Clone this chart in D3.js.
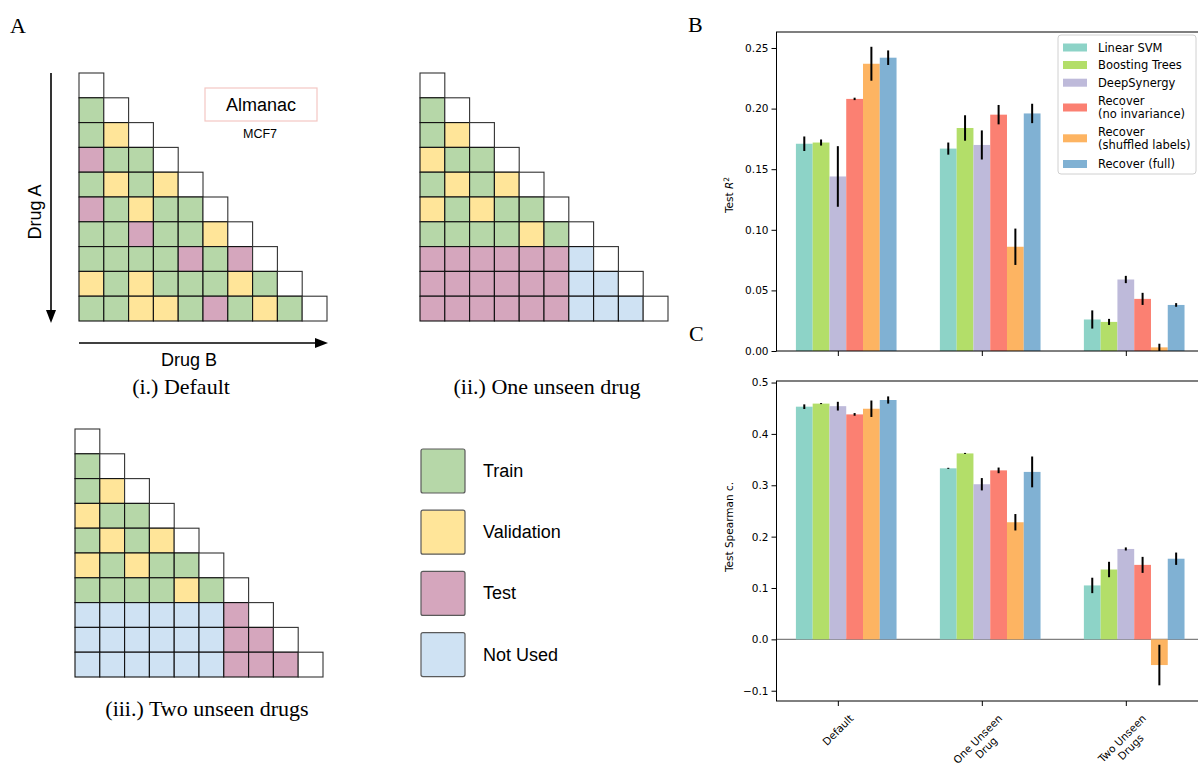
<!DOCTYPE html>
<html><head><meta charset="utf-8">
<script src="https://cdn.jsdelivr.net/npm/d3@7"></script>
<style>
body{margin:0;background:#fff;}
svg{display:block;}
</style></head>
<body>
<svg id="fig" width="1198" height="765"></svg>
<script>
// ---------- DATA ----------
// Panel A: split schematics (row strings; G=train, Y=validation, P=test, B=not used, W=empty)
const gridDefault = ["W","GW","GYW","PGGW","GYGYW","PGYGGW","GGPGGYW","GGGGPGPW","YGYGGGYGW","GGYYGPGYGW"];
const gridOneUnseen = ["W","GW","GYW","YGGW","GYGYW","YGYGGW","GGGGYGW","PPPPPPBW","PPPPPPBBW","PPPPPPBBBW"];
const gridTwoUnseen = ["W","GW","GYW","YGGW","GYGYW","YGYGGW","GGGGYGW","BBBBBBPW","BBBBBBPPW","BBBBBBPPPW"];
const splitKeys = ["G","Y","P","B"];
const splitLabels = ["Train","Validation","Test","Not Used"];
const captions = ["(i.) Default","(ii.) One unseen drug","(iii.) Two unseen drugs"];

// Panels B & C
const categories = ["Default","One Unseen\nDrug","Two Unseen\nDrugs"];
const methods = ["Linear SVM","Boosting Trees","DeepSynergy","Recover\n(no invariance)","Recover\n(shuffled labels)","Recover (full)"];
// rows = methods, columns = categories
const r2Mean = [
  [0.171,0.167,0.026],
  [0.172,0.184,0.024],
  [0.144,0.170,0.059],
  [0.208,0.195,0.043],
  [0.237,0.086,0.003],
  [0.242,0.196,0.038]
];
const r2Err = [
  [0.006,0.005,0.0075],
  [0.0025,0.0105,0.0025],
  [0.025,0.012,0.003],
  [0.001,0.008,0.005],
  [0.014,0.015,0.003],
  [0.006,0.008,0.0015]
];
const spMean = [
  [0.453,0.333,0.105],
  [0.459,0.362,0.136],
  [0.454,0.302,0.176],
  [0.438,0.329,0.145],
  [0.449,0.228,-0.050],
  [0.466,0.326,0.157]
];
const spErr = [
  [0.0045,0.001,0.015],
  [0.001,0.001,0.015],
  [0.0085,0.012,0.003],
  [0.0026,0.0055,0.0156],
  [0.016,0.016,0.0395],
  [0.007,0.030,0.012]
];
const r2Ticks = [0,0.05,0.10,0.15,0.20,0.25];
const spTicks = [-0.1,0,0.1,0.2,0.3,0.4,0.5];

// ---------- STYLE ----------
const splitColor = {G:"#b6d7a8",Y:"#ffe599",P:"#d5a6bd",B:"#cfe2f3",W:"#ffffff"};
const methodColors = ["#8dd3c7","#b3de69","#bebada","#fb8072","#fdb462","#80b1d3"];
const SANS = "'Liberation Sans', Arial, sans-serif";
const SERIF = "'Liberation Serif', 'DejaVu Serif', serif";
const MPL = "'DejaVu Sans', sans-serif";

const svg = d3.select("#fig");

// ---------- PANEL A ----------
const cell = 24.8;
function drawGrid(rows, x0, y0){
  const g = svg.append("g");
  rows.forEach((row, r) => {
    row.split("").forEach((k, c) => {
      g.append("rect")
        .attr("x", x0 + c*cell).attr("y", y0 + r*cell)
        .attr("width", cell).attr("height", cell)
        .attr("fill", splitColor[k])
        .attr("stroke", k === "W" ? "#333" : "#111")
        .attr("stroke-width", 1.1);
    });
  });
}
drawGrid(gridDefault, 79, 73);
drawGrid(gridOneUnseen, 420, 73);
drawGrid(gridTwoUnseen, 75, 429);

// panel letters
svg.append("text").attr("x",10).attr("y",33).attr("font-family",SERIF).attr("font-size",22).text("A");
svg.append("text").attr("x",688).attr("y",32).attr("font-family",SERIF).attr("font-size",22).text("B");
svg.append("text").attr("x",689).attr("y",341).attr("font-family",SERIF).attr("font-size",22).text("C");

// Almanac box
svg.append("rect").attr("x",205).attr("y",88).attr("width",112).attr("height",33)
  .attr("fill","#fff").attr("stroke","#f4c7c3").attr("stroke-width",1.2);
svg.append("text").attr("x",261).attr("y",111).attr("text-anchor","middle")
  .attr("font-family",SANS).attr("font-size",18).text("Almanac");
svg.append("text").attr("x",260).attr("y",138).attr("text-anchor","middle")
  .attr("font-family",SANS).attr("font-size",12.5).text("MCF7");

// arrows
svg.append("line").attr("x1",51).attr("y1",73).attr("x2",51).attr("y2",312).attr("stroke","#000").attr("stroke-width",1.6);
svg.append("path").attr("d","M46,310 L56,310 L51,323 Z").attr("fill","#000");
svg.append("line").attr("x1",79).attr("y1",343).attr("x2",317).attr("y2",343).attr("stroke","#000").attr("stroke-width",1.6);
svg.append("path").attr("d","M315,338 L315,348 L328,343 Z").attr("fill","#000");
svg.append("text").attr("transform","translate(41,212) rotate(-90)").attr("text-anchor","middle")
  .attr("font-family",SANS).attr("font-size",18).text("Drug A");
svg.append("text").attr("x",189).attr("y",366).attr("text-anchor","middle")
  .attr("font-family",SANS).attr("font-size",18).text("Drug B");

// captions
const capPos = [[181,394],[547,394],[207,716]];
captions.forEach((c,i)=>{
  svg.append("text").attr("x",capPos[i][0]).attr("y",capPos[i][1]).attr("text-anchor","middle")
    .attr("font-family",SERIF).attr("font-size",22).text(c);
});

// split legend
splitKeys.forEach((k,i)=>{
  const y = 449 + i*61.2;
  svg.append("rect").attr("x",421).attr("y",y).attr("width",44).attr("height",44).attr("rx",2)
    .attr("fill",splitColor[k]).attr("stroke","#5a5a5a").attr("stroke-width",1.2);
  svg.append("text").attr("x",483).attr("y",y+28).attr("font-family",SANS).attr("font-size",18)
    .text(splitLabels[i]);
});

// ---------- PANELS B & C ----------
const xLeft = 776.5, xRight = 1204;
const xScale = d3.scaleLinear().domain([-0.426, 2.543]).range([xLeft, xRight]);
const barW = 0.1165;

function barPanel(opts){
  const {y, top, bottom, means, errs, ticks, fmt, showLabels, zeroLine} = opts;
  const g = svg.append("g");
  if(zeroLine){
    g.append("line").attr("x1",xLeft).attr("x2",xRight).attr("y1",y(0)).attr("y2",y(0))
      .attr("stroke","#808080").attr("stroke-width",1.2);
  }
  methods.forEach((m, mi)=>{
    categories.forEach((c, ci)=>{
      const v = means[mi][ci];
      const xc = ci + (mi-2)*barW;
      g.append("rect")
        .attr("x", xScale(xc - barW/2)).attr("width", xScale(barW) - xScale(0))
        .attr("y", y(Math.max(0,v))).attr("height", Math.abs(y(v)-y(0)))
        .attr("fill", methodColors[mi]);
    });
  });
  methods.forEach((m, mi)=>{
    categories.forEach((c, ci)=>{
      const v = means[mi][ci], e = errs[mi][ci];
      const xc = ci + (mi-2)*barW;
      g.append("line").attr("x1",xScale(xc)).attr("x2",xScale(xc))
        .attr("y1",y(v-e)).attr("y2",y(v+e)).attr("stroke","#000").attr("stroke-width",2);
    });
  });
  // frame
  g.append("rect").attr("x",xLeft).attr("y",top).attr("width",xRight-xLeft).attr("height",bottom-top)
    .attr("fill","none").attr("stroke","#000").attr("stroke-width",1);
  // y axis
  const ya = g.append("g").attr("transform",`translate(${xLeft},0)`)
    .call(d3.axisLeft(y).tickValues(ticks).tickFormat(fmt).tickSize(5).tickPadding(3));
  ya.select(".domain").remove();
  ya.selectAll("text").attr("font-family",MPL).attr("font-size",10.5).attr("fill","#000");
  ya.selectAll("line").attr("stroke","#000");
  // x axis ticks
  const xa = g.append("g").attr("transform",`translate(0,${bottom})`)
    .call(d3.axisBottom(xScale).tickValues([0,1,2]).tickFormat("").tickSize(5));
  xa.select(".domain").remove();
  xa.selectAll("line").attr("stroke","#000");
  if(showLabels){
    categories.forEach((c, ci)=>{
      const t = g.append("text").attr("font-family",MPL).attr("font-size",10.5).attr("text-anchor","middle");
      c.split("\n").forEach((l,j)=> t.append("tspan").attr("x",0).attr("dy", j===0 ? 0 : "1.15em").text(l));
      const bb = t.node().getBBox();
      const cx = bb.x + bb.width/2, cy = bb.y + bb.height/2;
      const hRot = (bb.width + bb.height)*Math.SQRT1_2;
      t.attr("transform",`translate(${xScale(ci)},${bottom + 11 + hRot/2}) rotate(-45) translate(${-cx},${-cy})`);
    });
  }
  return g;
}

const yB = d3.scaleLinear().domain([0, 0.2632]).range([351, 32]);
barPanel({y:yB, top:32, bottom:351, means:r2Mean, errs:r2Err, ticks:r2Ticks, fmt:d3.format(".2f"), showLabels:false, zeroLine:false});
const yC = d3.scaleLinear().domain([-0.12, 0.503]).range([701, 381]);
barPanel({y:yC, top:381, bottom:701, means:spMean, errs:spErr, ticks:spTicks, fmt:d3.format(".1f"), showLabels:true, zeroLine:true});

// y labels
const yl1 = svg.append("text").attr("transform","translate(733,195) rotate(-90)").attr("text-anchor","middle")
  .attr("font-family",MPL).attr("font-size",10.5);
yl1.append("tspan").text("Test ");
yl1.append("tspan").attr("font-style","italic").text("R");
yl1.append("tspan").attr("font-size",7.5).attr("dy",-4).text("2");
svg.append("text").attr("transform","translate(733,527) rotate(-90)").attr("text-anchor","middle")
  .attr("font-family",MPL).attr("font-size",10.5).text("Test Spearman c.");

// legend B
const lg = svg.append("g");
lg.append("rect").attr("x",1058).attr("y",35).attr("width",138).attr("height",139).attr("rx",3)
  .attr("fill","#fff").attr("fill-opacity",0.85).attr("stroke","#d0d0d0").attr("stroke-width",1);
const legendY = [47.5, 65, 82.7, 107.5, 138.3, 164];
methods.forEach((m, mi)=>{
  const yc = legendY[mi];
  lg.append("rect").attr("x",1063).attr("y",yc-4).attr("width",24).attr("height",8).attr("fill",methodColors[mi]);
  const lines = m.split("\n");
  const t = lg.append("text").attr("font-family",MPL).attr("font-size",11.5).attr("fill","#000");
  lines.forEach((l,j)=>{
    const off = (j - (lines.length-1)/2)*13.5;
    t.append("tspan").attr("x",1098).attr("y",yc + off + 4).text(l);
  });
});
</script>
</body></html>
